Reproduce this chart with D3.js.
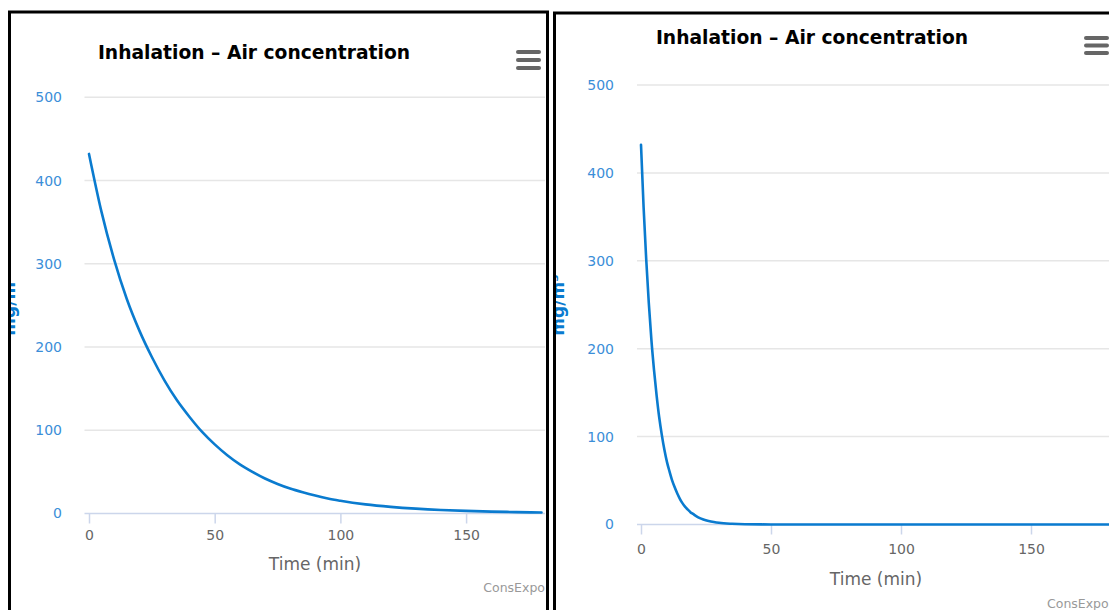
<!DOCTYPE html>
<html>
<head>
<meta charset="utf-8">
<script src="https://cdn.jsdelivr.net/npm/d3@7"></script>
<style>
  html, body { margin: 0; padding: 0; background: #fff; }
  svg { display: block; }
</style>
</head>
<body>
<svg id="chart" width="1109" height="610"></svg>
<script>
// ---- data ----
const chartTitle = "Inhalation – Air concentration";
const xAxisTitle = "Time (min)";
const yAxisTitle = "mg/m³";
const creditText = "ConsExpo";
const xTicks = [0, 50, 100, 150];
const yTicks = [0, 100, 200, 300, 400, 500];

// left panel: slower decay
const leftTime = [0, 5, 10, 15, 20, 25, 30, 35, 40, 45, 50, 55, 60, 65, 70, 75, 80, 85, 90, 95, 100, 110, 120, 130, 140, 150, 160, 170, 180];
const leftConc = [432, 362, 305, 258, 220, 188, 160, 136, 116, 98, 83, 70, 59, 50, 42, 35.5, 30, 25.5, 21.5, 18, 15.3, 11, 8, 5.8, 4.2, 3.1, 2.3, 1.7, 1.2];

// right panel: fast decay
const rightTime = [0, 1, 2, 3, 4, 5, 6, 7, 8, 9, 10, 11, 12, 13, 14, 15, 16, 17, 18, 19, 20, 22, 24, 26, 28, 30, 35, 40, 50, 60, 80, 100, 120, 140, 160, 180];
const rightConc = [432, 361, 302, 252, 210, 176, 147, 122, 102, 85, 71, 60, 50, 42, 35, 29, 24, 20, 17, 14, 12, 8.2, 5.7, 4, 2.8, 1.9, 0.8, 0.3, 0.05, 0, 0, 0, 0, 0, 0, 0];

// ---- layout ----
const svg = d3.select("#chart");
const panels = [
  { id: "L", times: leftTime, conc: leftConc,
    border: { x: 9.5, y: 12, w: 538 }, clip: { x0: 11, x1: 546 },
    plotL: 84.5, plotR: 545, x0: 89, x180: 541.5, y0: 513.5, y500: 97.3,
    titleX: 254, titleY: 58.5, yLabelPad: 22.5, xLabelPad: 6.5,
    xTitleX: 315, xTitleY: 569.5, yTitleX: 14.5, yTitleY: 305,
    creditX: 545, creditY: 592, creditAnchor: "end",
    menuX: 516, menuY: 52, menuGap: 8 },
  { id: "R", times: rightTime, conc: rightConc,
    border: { x: 554.5, y: 13, w: 600 }, clip: { x0: 556, x1: 1109 },
    plotL: 637, plotR: 1109, x0: 641, x180: 1109, y0: 524.5, y500: 85,
    titleX: 812, titleY: 43.5, yLabelPad: 23, xLabelPad: 9.5,
    xTitleX: 876, xTitleY: 584.5, yTitleX: 564, yTitleY: 305,
    creditX: 1047, creditY: 608, creditAnchor: "start",
    menuX: 1084, menuY: 38, menuGap: 7.5 }
];

const defs = svg.append("defs");

panels.forEach(p => {
  defs.append("clipPath").attr("id", "clip" + p.id)
    .append("rect").attr("x", p.clip.x0).attr("y", p.border.y)
    .attr("width", p.clip.x1 - p.clip.x0).attr("height", 610);

  const g = svg.append("g").attr("clip-path", `url(#clip${p.id})`);
  const x = d3.scaleLinear().domain([0, 180]).range([p.x0, p.x180]);
  const y = d3.scaleLinear().domain([0, 500]).range([p.y0, p.y500]);

  // gridlines
  g.append("g").selectAll("line").data(yTicks.filter(v => v > 0)).join("line")
    .attr("x1", p.plotL).attr("x2", p.plotR)
    .attr("y1", d => y(d)).attr("y2", d => y(d))
    .attr("stroke", "#e6e6e6").attr("stroke-width", 1.5);

  // y axis labels
  const ya = g.append("g").attr("transform", `translate(${p.plotL},0)`)
    .call(d3.axisLeft(y).tickValues(yTicks).tickSize(0).tickPadding(p.yLabelPad));
  ya.select(".domain").remove();
  ya.selectAll("text").attr("font-family", "DejaVu Sans").attr("font-size", 14).attr("fill", "#3b8ed8");

  // x axis
  const xa = g.append("g").attr("transform", `translate(0,${p.y0})`)
    .call(d3.axisBottom(x).tickValues(xTicks).tickSize(10).tickPadding(p.xLabelPad));
  xa.select(".domain").remove();
  xa.selectAll(".tick line").attr("stroke", "#ccd6eb").attr("stroke-width", 1.5);
  xa.selectAll("text").attr("font-family", "DejaVu Sans").attr("font-size", 14).attr("fill", "#666");
  g.append("line").attr("x1", p.plotL).attr("x2", p.plotR).attr("y1", p.y0).attr("y2", p.y0)
    .attr("stroke", "#ccd6eb").attr("stroke-width", 1.5);

  // series line
  const pts = p.times.map((t, i) => [t, p.conc[i]]);
  g.append("path").datum(pts)
    .attr("d", d3.line().x(d => x(d[0])).y(d => y(d[1])).curve(d3.curveMonotoneX))
    .attr("fill", "none").attr("stroke", "#0a7bcf").attr("stroke-width", 2.6)
    .attr("stroke-linejoin", "round").attr("stroke-linecap", "round");

  // title
  g.append("text").attr("x", p.titleX).attr("y", p.titleY).attr("text-anchor", "middle")
    .attr("font-family", "DejaVu Sans").attr("font-weight", "bold").attr("font-size", 18.7)
    .attr("fill", "#000").text(chartTitle);

  // axis titles
  g.append("text").attr("x", p.xTitleX).attr("y", p.xTitleY).attr("text-anchor", "middle")
    .attr("font-family", "DejaVu Sans").attr("font-size", 17).attr("fill", "#666").text(xAxisTitle);
  g.append("text").attr("transform", `translate(${p.yTitleX},${p.yTitleY}) rotate(-90)`)
    .attr("text-anchor", "middle").attr("font-family", "DejaVu Sans").attr("font-size", 17)
    .attr("font-weight", "bold").attr("fill", "#0a7bcf").text(yAxisTitle);

  // credit
  g.append("text").attr("x", p.creditX).attr("y", p.creditY).attr("text-anchor", p.creditAnchor)
    .attr("font-family", "DejaVu Sans").attr("font-size", 12.5).attr("fill", "#999").text(creditText);

  // menu icon
  g.append("g").selectAll("line").data([0, 1, 2]).join("line")
    .attr("x1", p.menuX + 2).attr("x2", p.menuX + 23)
    .attr("y1", d => p.menuY + d * p.menuGap).attr("y2", d => p.menuY + d * p.menuGap)
    .attr("stroke", "#666").attr("stroke-width", 4).attr("stroke-linecap", "round");

  // panel border
  svg.append("rect").attr("x", p.border.x).attr("y", p.border.y)
    .attr("width", p.border.w).attr("height", 700)
    .attr("fill", "none").attr("stroke", "#000").attr("stroke-width", 3);
});
</script>
</body>
</html>
